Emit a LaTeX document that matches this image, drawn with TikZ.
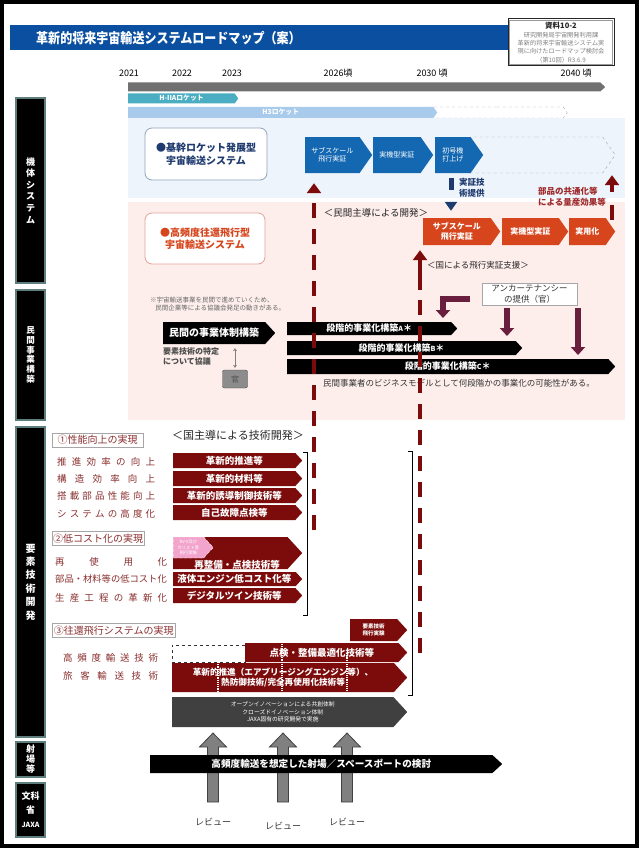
\documentclass[tikz,border=0pt]{standalone}
\usepackage{fontspec}
\setmainfont{Noto Sans CJK JP}
\usepackage{tikz}
\usetikzlibrary{arrows.meta,positioning,shapes.symbols}
\definecolor{rmtitle}{HTML}{0A4FA0}
\definecolor{rmgrey}{HTML}{707070}
\definecolor{rmteal}{HTML}{4BADC1}
\definecolor{rmsky}{HTML}{A8CBEB}
\definecolor{rmchev}{HTML}{1468B2}
\definecolor{rmorange}{HTML}{D6451C}
\definecolor{rmmaroon}{HTML}{7C0B0B}
\definecolor{rmplum}{HTML}{6A1E3E}
\definecolor{rmnavy}{HTML}{1E3A6E}
\definecolor{rmpanelblue}{HTML}{EEF4FB}
\definecolor{rmpanelpink}{HTML}{FDEEEB}
\definecolor{rmlabel}{HTML}{8A2E2E}
\definecolor{rmcommon}{HTML}{9E2A2B}
\definecolor{rmpink}{HTML}{F2A4CD}
\definecolor{rmside}{HTML}{5F7F7F}
\definecolor{rmboxblue}{HTML}{8FA3BC}
\definecolor{rmboxred}{HTML}{E3A39A}
\newcommand{\fsz}[2]{\fontsize{#1}{#2}\selectfont}
\tikzset{
  sidebar/.style={fill=black, draw=rmside, line width=1.2pt, text=white,
                  align=center, inner sep=0pt, minimum width=29pt},
  year/.style={font=\fsz{9}{10}, inner sep=0pt},
  chev/.style={signal, signal to=east, signal pointer angle=110, inner sep=0pt,
               text=white, align=center, anchor=west},
  ghostchev/.style={chev, draw=gray!70, dashed},
  bluechev/.style={chev, fill=rmchev, font=\fsz{7}{8.5}},
  redchev/.style={chev, fill=rmorange, font=\bfseries\fsz{8}{9.5}},
  techchev/.style={chev, signal pointer angle=95, fill=rmmaroon,
                   font=\bfseries\fsz{9.5}{11}},
  blackbar/.style={chev, signal pointer angle=95, fill=black,
                   font=\bfseries\fsz{9}{10}},
  sysbox/.style={rounded corners=7pt, fill=white, line width=0.8pt,
                 font=\bfseries\fsz{10}{12.5}, align=center},
  groupbox/.style={draw=gray!70, fill=white, text=rmlabel, font=\fsz{10}{12},
                   inner sep=1pt, anchor=west, minimum height=14pt},
  rowlabel/.style={text=rmlabel, font=\fsz{9.5}{11}, inner sep=0pt, anchor=west},
  reviewtext/.style={font=\fsz{9}{10}, text=black!80, inner sep=0pt},
  dashline/.style={draw=rmmaroon, line width=4.5pt, dash pattern=on 15pt off 11pt},
  dasharrow/.style={dashline, -{Triangle[width=14pt,length=10pt]}},
  solidarrow/.style={draw=rmmaroon, line width=4.5pt, -{Triangle[width=14pt,length=10pt]}},
  navyarrow/.style={draw=rmnavy, line width=5pt, dash pattern=on 12pt off 40pt,
                    -{Triangle[width=12pt,length=9pt]}},
  plumarrow/.style={draw=rmplum, line width=5.5pt, -{Triangle[width=14pt,length=8pt]}},
  reviewarrow/.style={fill=black!50, draw=black!75, line width=0.8pt},
}
\begin{document}
\begin{tikzpicture}[x=1pt, y=-1pt]
\useasboundingbox (0,0) rectangle (639,848);
\draw[line width=4pt] (2,2) rectangle (637,846);

% title
\fill[rmtitle] (10,25) rectangle (612,50);
\node[font=\bfseries\fsz{14}{16}, text=white, anchor=west, inner sep=0pt] (title)
  at (36,38) {\scalebox{0.86}[1]{革新的将来宇宙輸送システムロードマップ（案）}};
\node[draw=black!85, line width=1pt, fill=white,
      minimum width=106, minimum height=47, align=center, inner sep=0pt,
      text=gray, font=\fsz{6.2}{8.3}] (docref) at (561,42.5)
  {{\fsz{7.5}{9}\textcolor{black!85}{\textbf{資料10-2}}}\\研究開発局宇宙開発利用課\\
   革新的将来宇宙輸送システム実\\現に向けたロードマップ検討会\\（第10回）R3.6.9};
\draw[gray!80, line width=0.6pt] ([xshift=2pt,yshift=-2pt]docref.north west)
  rectangle ([xshift=-2pt,yshift=2pt]docref.south east);

% years and rockets
\node[year] (y2021) at (129,73) {2021};
\node[year] (y2022) at (182,73) {2022};
\node[year] (y2023) at (232,73) {2023};
\node[year] (y2026) at (338,73) {2026頃};
\node[year] (y2030) at (432,73) {2030\ 頃};
\node[year] (y2040) at (576,73) {2040\ 頃};
\node[chev, signal pointer angle=85, fill=rmgrey, minimum width=477,
      minimum height=9] (timeline) at (128,87) {};
\node[chev, fill=rmteal, minimum width=110, minimum height=10,
      font=\bfseries\fsz{6.8}{7}] (h2a) at (128,98.5) {H-IIAロケット};
\node[ghostchev, minimum width=137, minimum height=11] (h3next) at (430,112.5) {};
\node[chev, fill=rmsky, minimum width=309, minimum height=11,
      font=\bfseries\fsz{6.8}{7}] (h3) at (128,112.5) {H3ロケット};

% panels
\fill[rmpanelblue] (128,118) rectangle (625,198);
\fill[rmpanelpink] (128,202) rectangle (625,420);

% side bars
\node[sidebar, minimum height=185, font=\bfseries\fsz{9}{11.6}] (kitai) at (30.5,190.5)
  {機\\体\\シ\\ス\\テ\\ム};
\node[sidebar, minimum height=130, font=\bfseries\fsz{8.5}{9.7}] (minkanbar) at (30.5,355)
  {民\\間\\事\\業\\構\\築};
\node[sidebar, minimum height=310, font=\bfseries\fsz{10}{13.4}] (yoso) at (30.5,582)
  {要\\素\\技\\術\\開\\発};
\node[sidebar, minimum height=35, font=\bfseries\fsz{9}{10}] (shajo) at (30.5,759.5)
  {射\\場\\等};
\node[sidebar, minimum height=54, font=\bfseries\fsz{9}{14}] (mext) at (30.5,810)
  {文科\\省\\{\fsz{7}{8}JAXA}};

% vehicle systems
\node[sysbox, draw=rmboxblue, text=rmnavy, minimum width=122, minimum height=52]
  (kikan) at (206,154) {●基幹ロケット発展型\\宇宙輸送システム};
\node[sysbox, draw=rmboxred, text=rmorange, minimum width=120, minimum height=51]
  (kohindo) at (205,238.5) {●高頻度往還飛行型\\宇宙輸送システム};

\node[ghostchev, minimum width=145, minimum height=36] (bluenext) at (470,155) {};
\node[bluechev, minimum width=67, minimum height=36] (blueA) at (305,155) {サブスケール\\飛行実証};
\node[bluechev, minimum width=60, minimum height=36] (blueB) at (373,155) {実機型実証};
\node[bluechev, minimum width=48, minimum height=36] (blueC) at (435,155) {初号機\\打上げ};

\node[font=\fsz{9.5}{11}, text=black!85, inner sep=0pt] (minkan) at (376,213)
  {＜民間主導による開発＞};
\node[redchev, minimum width=77, minimum height=27] (redA) at (423,231.5) {サブスケール\\飛行実証};
\node[redchev, minimum width=66, minimum height=27] (redB) at (502,231.5) {実機型実証};
\node[redchev, minimum width=46, minimum height=27] (redC) at (569,231.5) {実用化};
\node[font=\fsz{8.5}{10}, text=black!85, inner sep=0pt] (kunishien) at (478,265)
  {＜国による飛行実証支援＞};

\node[text=rmnavy, anchor=west, align=left, font=\bfseries\fsz{8.5}{11}, inner sep=0pt]
  (teikyo) at (459,188) {実証技\\術提供};
\node[text=rmcommon, anchor=west, align=left, font=\bfseries\fsz{8.5}{11}, inner sep=0pt]
  (ryosan) at (538,197) {部品の共通化等\\による量産効果等};

\coordinate (navytop) at (451,178);
\draw[navyarrow, shorten >=7pt] (navytop) -- (navytop |- redA.north);
\coordinate (commonfoot) at (612,220);
\draw[dasharrow, dash pattern=on 15pt off 13pt, shorten >=2pt] (commonfoot) -- (commonfoot |- bluenext.south);

% private business
\node[anchor=north west, align=left, text=black!60, font=\fsz{6.5}{8}, inner sep=0pt]
  (kyogikai) at (150,297) {※宇宙輸送事業を民間で進めていくため、\\\hspace*{0.8em}民間企業等による協議会発足の動きがある。};
\node[blackbar, font=\bfseries\fsz{10}{12}, minimum width=112, minimum height=22]
  (taisei) at (163,333) {民間の事業体制構築};
\node[anchor=north west, align=left, text=black!70, font=\bfseries\fsz{8}{10}, inner sep=0pt]
  (kyogi) at (163,347) {要素技術の特定\\について協議};
\node[draw=black!70, fill=gray!90, rounded corners=2pt, minimum width=25,
      minimum height=18, inner sep=0pt, font=\fsz{8}{9}, text=black!70] (kan) at (235,379) {官};
\draw[{Stealth[length=3pt,width=4pt]}-{Stealth[length=3pt,width=4pt]}, gray, line width=1pt,
      shorten <=2pt, shorten >=4pt] (kan.north) -- (kan.north |- taisei.south);

\node[blackbar, minimum width=170, minimum height=13] (barA) at (287,328.5)
  {段階的事業化構築{\fsz{7}{8}A}＊};
\node[blackbar, minimum width=235, minimum height=14] (barB) at (287,348)
  {段階的事業化構築{\fsz{7}{8}B}＊};
\node[blackbar, minimum width=328, minimum height=15] (barC) at (287,366.5)
  {段階的事業化構築{\fsz{7}{8}C}＊};
\node[anchor=west, text=black!80, font=\fsz{8.5}{10}, inner sep=0pt] (bizmodel) at (323,383)
  {民間事業者のビジネスモデルとして何段階かの事業化の可能性がある。};

\node[draw=gray!70, fill=white, align=center, font=\fsz{8.5}{10.5}, text=black!80,
      minimum width=95, minimum height=22, inner sep=1pt] (anchten) at (529.5,294)
  {アンカーテナンシー\\の提供（官）};
\coordinate (tipA) at (443,318);
\coordinate (tipB) at (507,336);
\coordinate (tipC) at (578,355);
\draw[plumarrow, shorten <=12pt] ([yshift=-5pt]anchten.west) -| (tipA);
\draw[plumarrow, shorten <=3pt] (anchten.south -| tipB) -- (tipB);
\draw[plumarrow, shorten <=3pt] (anchten.south -| tipC) -- (tipC);

% element technologies
\node[font=\fsz{11}{13}, text=black!85, inner sep=0pt] (kunishudo) at (238,435)
  {＜国主導による技術開発＞};
\node[groupbox, minimum width=91] (grp1) at (52,440) {①性能向上の実現};
\node[rowlabel] (row11) at (57,462) {\makebox[98pt][s]{推\hfill 進\hfill 効\hfill 率\hfill の\hfill 向\hfill 上}};
\node[rowlabel] (row12) at (57,479) {\makebox[98pt][s]{構\hfill 造\hfill 効\hfill 率\hfill 向\hfill 上}};
\node[rowlabel] (row13) at (57,496) {\makebox[98pt][s]{搭\hfill 載\hfill 部\hfill 品\hfill 性\hfill 能\hfill 向\hfill 上}};
\node[rowlabel] (row14) at (57,514) {\makebox[98pt][s]{シ\hfill ス\hfill テ\hfill ム\hfill の\hfill 高\hfill 度\hfill 化}};
\node[techchev, minimum width=129, minimum height=15] (tech11) at (173,460.5) {革新的推進等};
\node[techchev, minimum width=129, minimum height=15] (tech12) at (173,478.5) {革新的材料等};
\node[techchev, minimum width=129, minimum height=15] (tech13) at (173,495.5) {革新的誘導制御技術等};
\node[techchev, minimum width=129, minimum height=15] (tech14) at (173,512.5) {自己故障点検等};

\node[groupbox, minimum width=91] (grp2) at (52,538.5) {②低コスト化の実現};
\node[rowlabel] (row21) at (55,562) {\makebox[112pt][s]{再\hfill 使\hfill 用\hfill 化}};
\node[rowlabel, font=\fsz{9.3}{11}] (row22) at (55,579) {\makebox[112pt][s]{部品・材料等の低コスト化}};
\node[rowlabel] (row23) at (55,598) {\makebox[112pt][s]{生\hfill 産\hfill 工\hfill 程\hfill の\hfill 革\hfill 新\hfill 化}};
\node[techchev, minimum width=129, minimum height=32] (tech21) at (173,553) {};
\node[text=white, font=\bfseries\fsz{9.5}{11}, inner sep=0pt] (saiseibi) at (237,565)
  {再整備・点検技術等};
\node[chev, signal pointer angle=95, fill=rmpink, draw=white, densely dashed,
      font=\fsz{4.3}{5.5}, minimum width=40, minimum height=21] (rvx) at (173,547.5)
  {RV-X及び\\カリスト等\\飛行実験};
\node[techchev, minimum width=129, minimum height=14] (tech22) at (173,579) {液体エンジン低コスト化等};
\node[techchev, minimum width=129, minimum height=15] (tech23) at (173,595.5) {デジタルツイン技術等};
\draw[thick] (303,452) -- (307,452) -- (307,615) -- (303,615);

\node[groupbox, minimum width=123] (grp3) at (52,630.5) {③往還飛行システムの実現};
\node[rowlabel] (row31) at (63,658) {\makebox[95pt][s]{高\hfill 頻\hfill 度\hfill 輸\hfill 送\hfill 技\hfill 術}};
\node[rowlabel] (row32) at (63,676) {\makebox[95pt][s]{旅\hfill 客\hfill 輸\hfill 送\hfill 技\hfill 術}};
\node[draw=black!80, dashed, fill=white, minimum width=73, minimum height=17, inner sep=0pt,
      anchor=west] (dashbox) at (172,653.5) {};
\node[techchev, minimum width=57, minimum height=22, font=\bfseries\fsz{5.5}{7}]
  (hikojikken) at (350,630) {要素技術\\飛行実験};
\node[techchev, minimum width=162, minimum height=19] (tenken) at (245,652.5)
  {点検・整備最適化技術等};
\node[techchev, minimum width=235, minimum height=29, font=\bfseries\fsz{8.6}{10}]
  (kakushin) at (172,677.5) {革新的推進（エアブリージングエンジン等）、\\熱防御技術/完全再使用化技術等};
\draw[white, densely dotted, line width=1.2pt] (218,662) -- (218,691);
\draw[white, densely dotted, line width=1.2pt] (282,644) -- (282,691);
\draw[white, densely dotted, line width=1.2pt] (347,653) -- (347,691);
\node[chev, signal pointer angle=95, fill=black!75, font=\fsz{5.8}{7.5}, minimum width=235,
      minimum height=30] (jaxa) at (172,712)
  {オープンイノベーションによる共創体制\\クローズドイノベーション体制\\JAXA固有の研究開発で実施};
\draw[thick] (408,451) -- (412,451) -- (412,695) -- (408,695);

% dashed arrows
\coordinate (dashLfoot) at (314,530);
\draw[dasharrow, shorten >=10pt] (dashLfoot) -- (dashLfoot |- blueA.south);
\coordinate (dashRfoot) at (420,653);
\coordinate (dashRtop) at (420,290);
\draw[dashline] (dashRfoot) -- (dashRtop);
\draw[solidarrow, shorten >=5pt] (dashRtop) -- (dashRtop |- redA.south);

% launch site and reviews
\draw[reviewarrow] (207.5,802) -- ++(0,-55) -- ++(-8,0) -- ++(13.5,-14) -- ++(13.5,14) -- ++(-8,0) -- ++(0,55) -- cycle;
\draw[reviewarrow] (277.5,802) -- ++(0,-55) -- ++(-8,0) -- ++(13.5,-14) -- ++(13.5,14) -- ++(-8,0) -- ++(0,55) -- cycle;
\draw[reviewarrow] (341.5,802) -- ++(0,-55) -- ++(-8,0) -- ++(13.5,-14) -- ++(13.5,14) -- ++(-8,0) -- ++(0,55) -- cycle;
\node[blackbar, signal pointer angle=85, font=\bfseries\fsz{9.6}{11}, minimum width=352,
      minimum height=18] (spaceport) at (150,764) {高頻度輸送を想定した射場／スペースポートの検討};
\node[reviewtext] (review1) at (213,822) {レビュー};
\node[reviewtext] (review2) at (283,826) {レビュー};
\node[reviewtext] (review3) at (347,822) {レビュー};
\end{tikzpicture}
\end{document}
